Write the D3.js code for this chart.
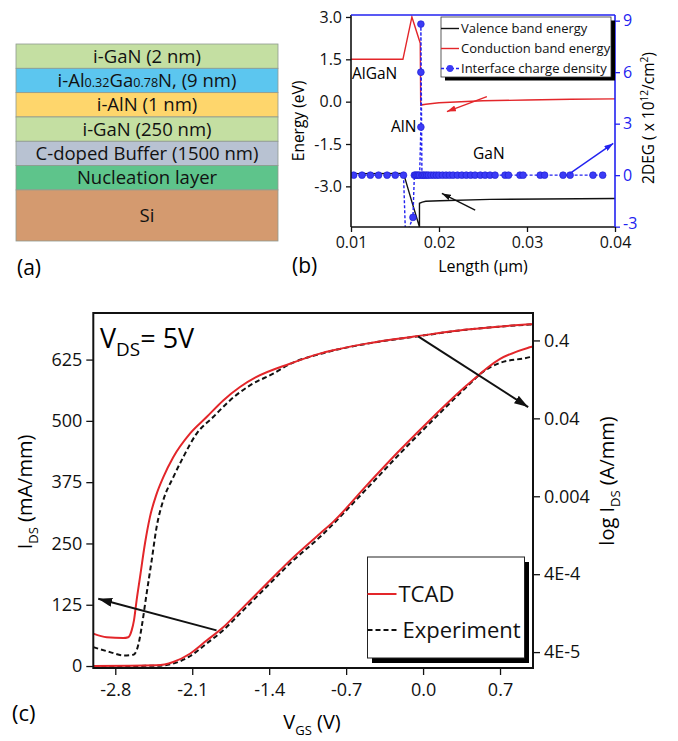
<!DOCTYPE html>
<html>
<head>
<meta charset="utf-8">
<script src="https://cdn.jsdelivr.net/npm/d3@7"></script>
<style>
  body { margin: 0; background: #fff; }
  text { font-family: "Open Sans", sans-serif; }
</style>
</head>
<body>
<svg id="fig"></svg>
<script>
// ---------- data ----------
// (a) layer stack, top to bottom
const layerNames = ["i-GaN (2 nm)", "i-Al{0.32}Ga{0.78}N, (9 nm)", "i-AlN (1 nm)", "i-GaN (250 nm)",
                    "C-doped Buffer (1500 nm)", "Nucleation layer", "Si"];
const layerUnits = [1, 1, 1, 1, 1, 1, 2.1];
const layerColors = ["#c4dfa2", "#5cc6ef", "#fed66c", "#c4dfa2", "#b8c2d2", "#5ec48b", "#d49a6f"];

// (b) band diagram
const lengthTicks = [0.01, 0.02, 0.03, 0.04];
const energyTicks = [3.0, 1.5, 0.0, -1.5, -3.0];
const degTicks = [9, 6, 3, 0, -3];
const condL = [0.01, 0.0159, 0.01692, 0.01787, 0.01792, 0.0185, 0.020, 0.025, 0.030, 0.035, 0.04];
const condE = [1.5, 1.5, 3.0, 2.07, -0.12, -0.09, -0.04, 0.03, 0.06, 0.085, 0.1];
const valL = [0.01, 0.01597, 0.01692, 0.01775, 0.01778, 0.01778, 0.0181, 0.0185, 0.0201, 0.0258, 0.04];
const valE = [-2.55, -2.54, -3.55, -4.41, -4.6, -3.6, -3.56, -3.53, -3.51, -3.46, -3.43];
const chargeL = [0.0103, 0.01125, 0.0122, 0.01313, 0.0141, 0.01503, 0.01597, 0.0162, 0.01704, 0.0172,
                 0.01735, 0.0175, 0.01765, 0.0178, 0.01794, 0.01794, 0.01794, 0.01806, 0.0182, 0.0184,
                 0.0186, 0.0188, 0.0191, 0.0194, 0.0197, 0.0200, 0.0204, 0.0208, 0.0212, 0.0216,
                 0.0221, 0.0226, 0.0231, 0.0236, 0.0241, 0.0247, 0.02524, 0.0258, 0.02637, 0.0275,
                 0.0279, 0.0292, 0.02956, 0.0315, 0.0320, 0.0341, 0.0349, 0.0375, 0.0386];
const chargeD = [0, 0, 0, 0, 0, 0, 0, -3.6, -2.46, 0,
                 0, 0, 0, 0, 2.8, 6.0, 8.8, 0, 0, 0,
                 0, 0, 0, 0, 0, 0, 0, 0, 0, 0,
                 0, 0, 0, 0, 0, 0, 0, 0, 0, 0,
                 0, 0, 0, 0, 0, 0, 0, 0, 0];
const bandLegend = ["Valence band energy", "Conduction band energy", "Interface charge density"];

// (c) transfer curves
const vgsTicks = [-2.8, -2.1, -1.4, -0.7, 0.0, 0.7];
const idsTicks = [0, 125, 250, 375, 500, 625];
const logTicks = [0.4, 0.04, 0.004, 4e-4, 4e-5];
const logTickLabels = ["0.4", "0.04", "0.004", "4E-4", "4E-5"];

const tcadLinV = [-3.0, -2.424, -2.273, -2.121, -1.969, -1.818, -1.666, -1.515, -1.364, -1.212, -0.939, -0.818, -0.515, -0.212, 0.091, 0.395, 0.697, 0.97, 1.0];
const tcadLinI = [0, 1.4, 8.2, 25, 52, 79, 113, 147, 181, 215, 270, 294, 368, 440, 508, 572, 626, 650, 652];
const expLinV = [-3.0, -2.424, -2.273, -2.121, -1.969, -1.818, -1.666, -1.515, -1.364, -1.212, -0.939, -0.515, -0.212, 0.091, 0.395, 0.545, 0.697, 0.97, 1.0];
const expLinI = [0, 0.5, 5, 20, 46, 73, 107, 141, 175, 209, 263, 361, 433, 502, 569, 600, 618, 630, 632];

const tcadLogV = [-3.0, -2.878, -2.727, -2.682, -2.651, -2.630, -2.606, -2.575, -2.530, -2.485, -2.424, -2.364, -2.273, -2.121, -1.969, -1.818, -1.666, -1.515, -1.212, -0.939, -0.818, -0.515, -0.060, 0.395, 0.97, 1.0];
const tcadLogI = [6.9e-5, 6.2e-5, 6.05e-5, 6.2e-5, 7.6e-5, 1.02e-4, 1.85e-4, 3.67e-4, 9.9e-4, 2.16e-3, 4.3e-3, 7.0e-3, 0.0127, 0.0255, 0.0416, 0.068, 0.101, 0.136, 0.201, 0.271, 0.299, 0.364, 0.452, 0.551, 0.644, 0.648];
const expLogV = [-3.0, -2.848, -2.727, -2.636, -2.606, -2.582, -2.56, -2.515, -2.469, -2.424, -2.364, -2.273, -2.182, -2.06, -1.909, -1.757, -1.575, -1.364, -1.212, -0.939, -0.515, -0.060, 0.395, 0.97, 1.0];
const expLogI = [4.63e-5, 4.0e-5, 3.63e-5, 3.7e-5, 4.2e-5, 5.6e-5, 8.4e-5, 2.25e-4, 6.0e-4, 1.61e-3, 3.54e-3, 7.0e-3, 0.0127, 0.0255, 0.0416, 0.068, 0.106, 0.150, 0.199, 0.268, 0.362, 0.450, 0.550, 0.640, 0.644];
const ivLegend = ["TCAD", "Experiment"];

// ---------- setup ----------
const W = 678, H = 741;
const svg = d3.select("#fig").attr("width", W).attr("height", H);
svg.append("rect").attr("width", W).attr("height", H).attr("fill", "#fff");
const defs = svg.append("defs");

function head(id, color, len, wid) {
  defs.append("marker").attr("id", id)
    .attr("viewBox", `0 0 ${len} ${wid}`).attr("refX", len).attr("refY", wid / 2)
    .attr("markerWidth", len).attr("markerHeight", wid)
    .attr("markerUnits", "userSpaceOnUse").attr("orient", "auto")
    .append("path").attr("d", `M0,0L${len},${wid / 2}L0,${wid}Z`).attr("fill", color);
}
head("hk", "#111", 14, 9);
head("hks", "#111", 9, 6);
head("hr", "#e3262a", 9, 6);
head("hb", "#2222f0", 9, 6);

// text with sub/superscript parts: [string, kind]
function rich(t, parts, fs, subScale) {
  let shift = 0;
  parts.forEach(([s, k]) => {
    const target = k === "sub" ? 0.3 * fs : k === "sup" ? -0.4 * fs : 0;
    const ts = t.append("tspan").text(s).attr("dy", target - shift);
    shift = target;
    if (k) ts.attr("font-size", fs * (k === "small" ? 0.68 : (subScale || 0.65)));
  });
  return t;
}

// ---------- (a) ----------
const ends = Array.from(d3.cumsum(layerUnits));
const yA = d3.scaleLinear().domain([0, d3.sum(layerUnits)]).range([44, 241]);
const xA = [16, 278];
const gA = svg.append("g");
layerNames.forEach((name, i) => {
  const y0 = yA(i === 0 ? 0 : ends[i - 1]), y1 = yA(ends[i]);
  gA.append("rect").attr("x", xA[0]).attr("y", y0).attr("width", xA[1] - xA[0]).attr("height", y1 - y0)
    .attr("fill", layerColors[i]).attr("stroke", "#8f9a90").attr("stroke-width", 0.8);
  const t = gA.append("text").attr("x", (xA[0] + xA[1]) / 2).attr("y", (y0 + y1) / 2 + 6.5)
    .attr("text-anchor", "middle").attr("font-size", 18.5).attr("fill", "#111");
  const parts = name.split(/(\{[^}]*\})/).filter(s => s).map(s => s[0] === "{" ? [s.slice(1, -1), "small"] : [s, ""]);
  rich(t, parts, 18.5);
});
svg.append("text").attr("x", 17).attr("y", 275).attr("font-size", 21).text("(a)");

// ---------- (b) ----------
const xB = d3.scaleLinear().domain([0.01, 0.04]).range([351, 615]);
const yB = d3.scaleLinear().domain([-4.44, 3.07]).range([227, 15]);
const yB2 = d3.scaleLinear().domain([-3.02, 9.33]).range([227, 15]);
const blue = "#2222f0", red = "#e3262a";
const gB = svg.append("g");
defs.append("clipPath").attr("id", "clipB").append("rect")
  .attr("x", 351).attr("y", 15).attr("width", 264).attr("height", 212);

const pB = gB.append("g").attr("clip-path", "url(#clipB)");
const lineB = (xs, ys, sy) => d3.line()(xs.map((v, i) => [xB(v), sy(ys[i])]));
pB.append("path").attr("d", lineB(valL, valE, yB)).attr("fill", "none").attr("stroke", "#111").attr("stroke-width", 1.4);
pB.append("path").attr("d", lineB(condL, condE, yB)).attr("fill", "none").attr("stroke", red).attr("stroke-width", 1.4);
pB.append("path").attr("d", lineB(chargeL, chargeD, yB2)).attr("fill", "none").attr("stroke", blue)
  .attr("stroke-width", 1.4).attr("stroke-dasharray", "3,2");
pB.selectAll("circle.q").data(chargeL).join("circle").attr("class", "q")
  .attr("cx", d => xB(d)).attr("cy", (d, i) => yB2(chargeD[i])).attr("r", 3.4)
  .attr("fill", "#3b3bf5").attr("stroke", "#1a1ad0").attr("stroke-width", 0.6);

// axes
const styleAxis = (g, col, fs) => {
  g.select(".domain").remove();
  g.selectAll(".tick line").attr("stroke", col).attr("stroke-width", 1.3);
  g.selectAll(".tick text").attr("fill", col).attr("font-size", fs).attr("font-family", "Open Sans, sans-serif");
};
gB.append("g").attr("transform", "translate(351,0)")
  .call(d3.axisLeft(yB).tickValues(energyTicks).tickSize(5).tickPadding(4).tickFormat(d => d.toFixed(1)))
  .call(g => styleAxis(g, "#111", 16));
gB.append("g").attr("transform", "translate(615,0)")
  .call(d3.axisRight(yB2).tickValues(degTicks).tickSize(5).tickPadding(3).tickFormat(d => String(d)))
  .call(g => styleAxis(g, blue, 16))
  .call(g => g.selectAll(".tick text").filter(d => d === -3).attr("dy", "0.1em"));
gB.append("g").attr("transform", "translate(0,227)")
  .call(d3.axisBottom(xB).tickValues(lengthTicks).tickSize(5).tickPadding(5).tickFormat(d => d.toFixed(2)))
  .call(g => styleAxis(g, "#111", 16));
gB.append("line").attr("x1", 351).attr("x2", 351).attr("y1", 15).attr("y2", 227).attr("stroke", "#111").attr("stroke-width", 1.6);
gB.append("line").attr("x1", 351).attr("x2", 615).attr("y1", 227).attr("y2", 227).attr("stroke", "#111").attr("stroke-width", 1.6);
gB.append("line").attr("x1", 351).attr("x2", 615).attr("y1", 15).attr("y2", 15).attr("stroke", blue).attr("stroke-width", 1.6);
gB.append("line").attr("x1", 615).attr("x2", 615).attr("y1", 15).attr("y2", 227).attr("stroke", blue).attr("stroke-width", 1.6);

// region labels
gB.append("text").attr("x", 352).attr("y", 79).attr("font-size", 15.5).text("AlGaN");
gB.append("text").attr("x", 391).attr("y", 132).attr("font-size", 15.5).text("AlN");
gB.append("text").attr("x", 473).attr("y", 159).attr("font-size", 15.5).text("GaN");

// arrows (b)
const arrowB = (p, q, sy1, sy2, col, id) => gB.append("line")
  .attr("x1", xB(p[0])).attr("y1", sy1(p[1])).attr("x2", xB(q[0])).attr("y2", sy2(q[1]))
  .attr("stroke", col).attr("stroke-width", 1.4).attr("marker-end", `url(#${id})`);
arrowB([0.02544, 0.18], [0.0209, -0.35], yB, yB, red, "hr");
arrowB([0.03489, 0.1], [0.0398, 1.85], yB2, yB2, blue, "hb");
arrowB([0.02411, -3.84], [0.02033, -3.25], yB, yB, "#111", "hks");

// legend (b)
const lgB = gB.append("g").attr("transform", "translate(441,17)");
lgB.append("rect").attr("x", 4).attr("y", 3.5).attr("width", 170).attr("height", 60).attr("fill", "#000");
lgB.append("rect").attr("width", 170).attr("height", 60).attr("fill", "#fff").attr("stroke", "#333").attr("stroke-width", 0.8);
bandLegend.forEach((name, i) => {
  const y = 11.5 + i * 20;
  const col = [ "#111", red, blue ][i];
  lgB.append("line").attr("x1", 0).attr("x2", 18).attr("y1", y).attr("y2", y).attr("stroke", col)
    .attr("stroke-width", 1.4).attr("stroke-dasharray", i === 2 ? "3,2" : null);
  if (i === 2) lgB.append("circle").attr("cx", 9).attr("cy", y).attr("r", 3.4).attr("fill", "#3b3bf5");
  lgB.append("text").attr("x", 20).attr("y", y + 4.5).attr("font-size", 13).attr("fill", "#111").text(name);
});

// axis titles (b)
gB.append("text").attr("transform", "translate(304,121) rotate(-90)").attr("text-anchor", "middle")
  .attr("font-size", 15.5).text("Energy (eV)");
rich(gB.append("text").attr("transform", "translate(654,118) rotate(-90)").attr("text-anchor", "middle")
  .attr("font-size", 15.5), [["2DEG ( x 10", ""], ["12", "sup"], ["/cm", ""], ["2", "sup"], [")", ""]], 15.5);
gB.append("text").attr("x", 483).attr("y", 272).attr("text-anchor", "middle").attr("font-size", 16).text("Length (\u03bcm)");
svg.append("text").attr("x", 292).attr("y", 273).attr("font-size", 21).text("(b)");

// ---------- (c) ----------
const xC = d3.scaleLinear().domain([-3, 1]).range([93.3, 533]);
const yC = d3.scaleLinear().domain([-4, 720]).range([668, 313]);
const yCl = d3.scaleLog().domain([2.5e-5, 0.9]).range([668, 313]);
const gC = svg.append("g");
defs.append("clipPath").attr("id", "clipC").append("rect")
  .attr("x", 93.3).attr("y", 313).attr("width", 533 - 93.3).attr("height", 355);
const pC = gC.append("g").attr("clip-path", "url(#clipC)");
const lineC = (xs, ys, sy) => d3.line().curve(d3.curveMonotoneX)(xs.map((v, i) => [xC(v), sy(ys[i])]));
pC.append("path").attr("d", lineC(expLinV, expLinI, yC)).attr("fill", "none").attr("stroke", "#111")
  .attr("stroke-width", 2).attr("stroke-dasharray", "5,3");
pC.append("path").attr("d", lineC(expLogV, expLogI, yCl)).attr("fill", "none").attr("stroke", "#111")
  .attr("stroke-width", 2).attr("stroke-dasharray", "5,3");
pC.append("path").attr("d", lineC(tcadLinV, tcadLinI, yC)).attr("fill", "none").attr("stroke", red).attr("stroke-width", 2);
pC.append("path").attr("d", lineC(tcadLogV, tcadLogI, yCl)).attr("fill", "none").attr("stroke", red).attr("stroke-width", 2);

gC.append("g").attr("transform", "translate(93.3,0)")
  .call(d3.axisLeft(yC).tickValues(idsTicks).tickSize(7).tickPadding(4))
  .call(g => styleAxis(g, "#111", 18));
gC.append("g").attr("transform", "translate(533,0)")
  .call(d3.axisRight(yCl).tickValues(logTicks).tickSize(7).tickPadding(4).tickFormat((d, i) => logTickLabels[i]))
  .call(g => styleAxis(g, "#111", 18));
gC.append("g").attr("transform", "translate(0,668)")
  .call(d3.axisBottom(xC).tickValues(vgsTicks).tickSize(7).tickPadding(8).tickFormat(d => d.toFixed(1)))
  .call(g => styleAxis(g, "#111", 18));
gC.append("rect").attr("x", 93.3).attr("y", 313).attr("width", 533 - 93.3).attr("height", 355)
  .attr("fill", "none").attr("stroke", "#111").attr("stroke-width", 2);

// arrows (c)
gC.append("line").attr("x1", xC(-1.879)).attr("y1", yC(72.8)).attr("x2", xC(-2.955)).attr("y2", yC(137.4))
  .attr("stroke", "#111").attr("stroke-width", 2).attr("marker-end", "url(#hk)");
gC.append("line").attr("x1", xC(-0.045)).attr("y1", yCl(0.45)).attr("x2", xC(0.956)).attr("y2", yCl(0.0558))
  .attr("stroke", "#111").attr("stroke-width", 2).attr("marker-end", "url(#hk)");

// V_DS note
rich(gC.append("text").attr("x", 100).attr("y", 348).attr("font-size", 27),
  [["V", ""], ["DS", "sub"], ["= 5V", ""]], 27, 0.7);

// legend (c)
const lgC = gC.append("g").attr("transform", "translate(367.5,557)");
lgC.append("rect").attr("x", 4.5).attr("y", 5).attr("width", 157).attr("height", 101).attr("fill", "#000");
lgC.append("rect").attr("width", 157).attr("height", 101).attr("fill", "#fff").attr("stroke", "#222").attr("stroke-width", 1);
ivLegend.forEach((name, i) => {
  const y = 37 + i * 36;
  lgC.append("line").attr("x1", 0).attr("x2", 29).attr("y1", y).attr("y2", y)
    .attr("stroke", i === 0 ? red : "#111").attr("stroke-width", 2).attr("stroke-dasharray", i === 1 ? "5,3" : null);
  lgC.append("text").attr("x", i === 0 ? 31 : 35).attr("y", y + 7.5).attr("font-size", 22).attr("fill", "#111").text(name);
});

// axis titles (c)
rich(gC.append("text").attr("transform", "translate(32,492) rotate(-90)").attr("text-anchor", "middle")
  .attr("font-size", 20), [["I", ""], ["DS", "sub"], [" (mA/mm)", ""]], 20);
rich(gC.append("text").attr("transform", "translate(614,481) rotate(-90)").attr("text-anchor", "middle")
  .attr("font-size", 20), [["log I", ""], ["DS", "sub"], [" (A/mm)", ""]], 20);
rich(gC.append("text").attr("x", 312).attr("y", 729).attr("text-anchor", "middle").attr("font-size", 20),
  [["V", ""], ["GS", "sub"], [" (V)", ""]], 20);
svg.append("text").attr("x", 12).attr("y", 721).attr("font-size", 22).text("(c)");
</script>
</body>
</html>
